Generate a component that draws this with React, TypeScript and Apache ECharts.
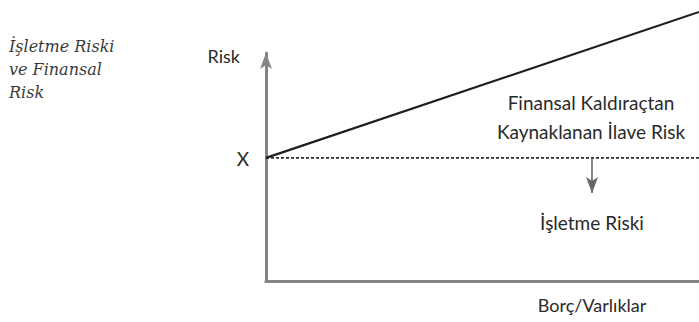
import React, { useEffect, useRef } from "react";
import * as echarts from "echarts";

// Borç/Varlıklar (x) and risk levels (y)
const leverage = [0, 1];
const totalRisk = [54, 118];
const businessRisk = [54, 54];
const arrowX = 0.753;
const arrowFrom = 54;
const arrowTo = 38.6;

const captionLines = ["İşletme Riski", "ve Finansal", "Risk"];
const yName = "Risk";
const xName = "Borç/Varlıklar";
const levelLabel = "X";
const financialLabel = ["Finansal Kaldıraçtan", "Kaynaklanan İlave Risk"];
const businessLabel = "İşletme Riski";

const SANS = "Lato, 'Open Sans', sans-serif";

export default function App() {
  const ref = useRef<HTMLDivElement>(null);
  useEffect(() => {
    if (!ref.current) return;
    const chart = echarts.init(ref.current, null, { renderer: "svg" });
    const axisGray = "#858585";
    chart.setOption({
      animation: false,
      backgroundColor: "#ffffff",
      grid: { left: 266, right: 0, top: 53, bottom: 41, containLabel: false },
      xAxis: {
        type: "value",
        min: 0,
        max: 1,
        axisLine: { show: true, lineStyle: { color: axisGray, width: 3 } },
        axisTick: { show: false },
        axisLabel: { show: false },
        splitLine: { show: false },
      },
      yAxis: {
        type: "value",
        min: 0,
        max: 100,
        axisLine: {
          show: true,
          symbol: ["none", "arrow"],
          symbolSize: [9, 16],
          symbolOffset: [0, 0],
          lineStyle: { color: axisGray, width: 3 },
        },
        axisTick: { show: false },
        axisLabel: { show: false },
        splitLine: { show: false },
      },
      series: [
        {
          type: "line",
          data: leverage.map((x, i) => [x, totalRisk[i]]),
          clip: false,
          symbol: "none",
          lineStyle: { color: "#1e1e1e", width: 2.2 },
          z: 5,
        },
        {
          type: "line",
          data: leverage.map((x, i) => [x, businessRisk[i]]),
          symbol: "none",
          lineStyle: { color: "#2e2e2e", width: 1.8, type: [3, 2] },
          markLine: {
            silent: true,
            symbol: ["none", "arrow"],
            symbolSize: [9, 16],
            label: { show: false },
            lineStyle: { color: "#666", width: 1.6, type: "solid" },
            data: [[{ coord: [arrowX, arrowFrom] }, { coord: [arrowX, arrowTo] }]],
          },
          z: 4,
        },
      ],
      graphic: [
        {
          type: "text",
          left: 9,
          top: 35,
          style: {
            text: captionLines.join("\n"),
            font: "italic 16px 'DejaVu Serif', serif",
            lineHeight: 23,
            fill: "#3a3a3a",
          },
        },
        {
          type: "text",
          x: 240,
          y: 56,
          style: {
            text: yName,
            align: "right",
            verticalAlign: "middle",
            font: `18px ${SANS}`,
            fill: "#2a2a2a",
          },
        },
        {
          type: "text",
          x: 243,
          y: 158,
          style: {
            text: levelLabel,
            align: "center",
            verticalAlign: "middle",
            font: `19px ${SANS}`,
            fill: "#2a2a2a",
          },
        },
        {
          type: "text",
          x: 591,
          y: 117,
          style: {
            text: financialLabel.join("\n"),
            align: "center",
            verticalAlign: "middle",
            lineHeight: 29,
            font: `19px ${SANS}`,
            fill: "#2a2a2a",
          },
        },
        {
          type: "text",
          x: 592,
          y: 222,
          style: {
            text: businessLabel,
            align: "center",
            verticalAlign: "middle",
            font: `19px ${SANS}`,
            fill: "#2a2a2a",
          },
        },
        {
          type: "text",
          x: 592,
          y: 305,
          style: {
            text: xName,
            align: "center",
            verticalAlign: "middle",
            font: `18px ${SANS}`,
            fill: "#2a2a2a",
          },
        },
      ],
    });
    return () => chart.dispose();
  }, []);
  return (
    <div
      ref={ref}
      style={{ position: "fixed", left: 0, top: 0, width: 699, height: 322 }}
    />
  );
}
